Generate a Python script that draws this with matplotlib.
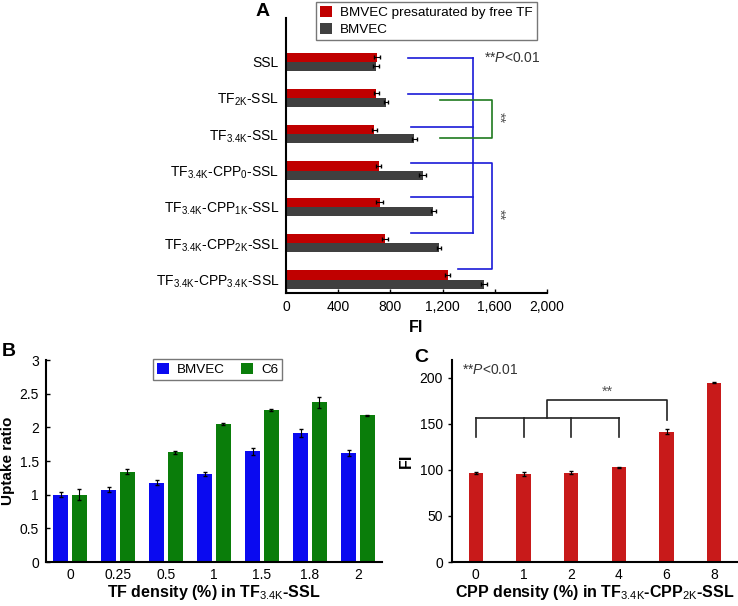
import numpy as np
import matplotlib
matplotlib.use('Agg')
import matplotlib.pyplot as plt

plt.rcParams['font.family'] = ['Liberation Sans', 'DejaVu Sans']
plt.rcParams['mathtext.fontset'] = 'custom'
plt.rcParams['mathtext.rm'] = 'Liberation Sans'
plt.rcParams['mathtext.it'] = 'Liberation Sans:italic'
plt.rcParams['mathtext.bf'] = 'Liberation Sans:bold'

# Panel A data
a_labels = ['SSL', r'TF$_{\rm 2K}$-SSL', r'TF$_{\rm 3.4K}$-SSL',
            r'TF$_{\rm 3.4K}$-CPP$_{\rm 0}$-SSL', r'TF$_{\rm 3.4K}$-CPP$_{\rm 1K}$-SSL',
            r'TF$_{\rm 3.4K}$-CPP$_{\rm 2K}$-SSL', r'TF$_{\rm 3.4K}$-CPP$_{\rm 3.4K}$-SSL']
a_presat = [696, 691, 678, 709, 717, 760, 1238]
a_presat_err = [22, 20, 18, 20, 25, 22, 20]
a_bmvec = [691, 767, 983, 1047, 1128, 1174, 1517]
a_bmvec_err = [25, 18, 20, 28, 20, 15, 22]
a_xticks = [0, 400, 800, 1200, 1600, 2000]
a_xticklabels = ['0', '400', '800', '1,200', '1,600', '2,000']

# Panel B data
b_cats = ['0', '0.25', '0.5', '1', '1.5', '1.8', '2']
b_bmvec = [1.00, 1.076, 1.18, 1.30, 1.646, 1.91, 1.62]
b_bmvec_err = [0.04, 0.04, 0.04, 0.03, 0.05, 0.06, 0.05]
b_c6 = [1.00, 1.34, 1.63, 2.05, 2.256, 2.37, 2.18]
b_c6_err = [0.08, 0.04, 0.02, 0.02, 0.01, 0.08, 0.01]

# Panel C data
c_cats = ['0', '1', '2', '4', '6', '8']
c_fi = [96.6, 95.5, 96.9, 102.7, 141.4, 194.6]
c_err = [1.0, 2.5, 2.0, 0.5, 2.5, 0.5]

red_a = '#c00000'
grey_a = '#404040'
blue = '#0a0af0'
green = '#0a7d0a'
red_c = '#c81a1a'

TICK = 10
LAB = 11.5

fig = plt.figure(figsize=(7.38, 6.06), dpi=100)

# ---------------- Panel A ----------------
axA = fig.add_axes([0.3875, 0.5165, 0.3537, 0.4538])
y = np.arange(len(a_labels))
h = 0.25
axA.barh(y - h / 2, a_presat, height=h, color=red_a, xerr=a_presat_err,
         error_kw=dict(ecolor='black', elinewidth=0.8, capsize=1.5), label='BMVEC presaturated by free TF')
axA.barh(y + h / 2, a_bmvec, height=h, color=grey_a, xerr=a_bmvec_err,
         error_kw=dict(ecolor='black', elinewidth=0.8, capsize=1.5), label='BMVEC')
axA.set_ylim(6.37, -1.2)
axA.set_xlim(0, 2000)
axA.set_yticks(y)
axA.set_yticklabels(a_labels, fontsize=TICK)
axA.set_xticks(a_xticks)
axA.set_xticklabels(a_xticklabels, fontsize=TICK)
axA.tick_params(axis='y', length=0, pad=5)
axA.tick_params(axis='x', direction='in', length=3, width=1, pad=5)
axA.set_xlabel('FI', fontsize=LAB, fontweight='bold', labelpad=4)
for s in ['top', 'right']:
    axA.spines[s].set_visible(False)
for s in ['left', 'bottom']:
    axA.spines[s].set_linewidth(1.5)

# significance brackets
blue_levels = [-0.1, 0.9, 1.8, 2.8, 3.72, 4.72]
blue_starts = [935, 935, 958, 958, 958, 958]
for yl, xs in zip(blue_levels, blue_starts):
    axA.plot([xs, 1433], [yl, yl], color='#1a1ad8', lw=1.2)
axA.plot([1433, 1433], [blue_levels[0], blue_levels[-1]], color='#1a1ad8', lw=1.2)
axA.plot([1433, 1579, 1579, 1318], [2.8, 2.8, 5.72, 5.72], color='#1a1ad8', lw=1.2)
axA.plot([1180, 1579, 1579, 1180], [1.05, 1.05, 2.1, 2.1], color='#1f7a1f', lw=1.2)
axA.text(1635, 1.55, '**', rotation=-90, ha='center', va='center', fontsize=10.5, color='#555555')
axA.text(1635, 4.2, '**', rotation=-90, ha='center', va='center', fontsize=10.5, color='#555555')
axA.text(1515, -0.1, r'**$\it{P}$<0.01', ha='left', va='center', fontsize=10, color='#333333')
axA.legend(loc='upper left', bbox_to_anchor=(0.115, 1.058), fontsize=9.7, frameon=True,
           fancybox=False, edgecolor='#555555', handlelength=0.9, handleheight=0.9,
           borderpad=0.3, labelspacing=0.25, handletextpad=0.6, borderaxespad=0)
fig.text(256 / 738, 1 - 11 / 606, 'A', fontsize=14, fontweight='bold', ha='left', va='center')

# ---------------- Panel B ----------------
axB = fig.add_axes([0.0623, 0.0726, 0.4553, 0.3333])
x = np.arange(len(b_cats))
w = 0.31
axB.bar(x - 0.19, b_bmvec, width=w, color=blue, yerr=b_bmvec_err,
        error_kw=dict(ecolor='black', elinewidth=0.8, capsize=1.5), label='BMVEC')
axB.bar(x + 0.19, b_c6, width=w, color=green, yerr=b_c6_err,
        error_kw=dict(ecolor='black', elinewidth=0.8, capsize=1.5), label='C6')
axB.set_xlim(-0.5, 6.5)
axB.set_ylim(0, 3)
axB.set_xticks(x)
axB.set_xticklabels(b_cats, fontsize=TICK)
axB.set_yticks([0, 0.5, 1, 1.5, 2, 2.5, 3])
axB.set_yticklabels(['0', '0.5', '1', '1.5', '2', '2.5', '3'], fontsize=TICK)
axB.tick_params(axis='x', length=0, pad=4)
axB.tick_params(axis='y', direction='in', length=3, width=1, pad=5)
axB.set_ylabel('Uptake ratio', fontsize=11, fontweight='bold', labelpad=3)
axB.set_xlabel(r'TF density (%) in TF$_{\rm 3.4K}$-SSL', fontsize=LAB, fontweight='bold', labelpad=1)
for s in ['top', 'right']:
    axB.spines[s].set_visible(False)
for s in ['left', 'bottom']:
    axB.spines[s].set_linewidth(1.5)
axB.legend(loc='upper left', bbox_to_anchor=(0.318, 1.005), ncol=2, fontsize=9.7, frameon=True,
           fancybox=False, edgecolor='#555555', handlelength=0.9, handleheight=0.9,
           borderpad=0.3, columnspacing=1.2, handletextpad=0.6, borderaxespad=0)
fig.text(2 / 738, 1 - 352 / 606, 'B', fontsize=14, fontweight='bold', ha='left', va='center')

# ---------------- Panel C ----------------
axC = fig.add_axes([0.6125, 0.0726, 0.3875, 0.3333])
xc = np.arange(len(c_cats))
axC.bar(xc, c_fi, width=0.3, color=red_c, yerr=c_err,
        error_kw=dict(ecolor='black', elinewidth=0.8, capsize=1.5))
axC.set_xlim(-0.5, 5.5)
axC.set_ylim(0, 219)
axC.set_xticks(xc)
axC.set_xticklabels(c_cats, fontsize=TICK)
axC.set_yticks([0, 50, 100, 150, 200])
axC.set_yticklabels(['0', '50', '100', '150', '200'], fontsize=TICK)
axC.tick_params(axis='x', length=0, pad=4)
axC.tick_params(axis='y', direction='out', length=3, width=1)
axC.set_ylabel('FI', fontsize=LAB, fontweight='bold', labelpad=4)
axC.set_xlabel(r'CPP density (%) in TF$_{\rm 3.4K}$-CPP$_{\rm 2K}$-SSL', fontsize=LAB,
               fontweight='bold', labelpad=1)
for s in ['top', 'right']:
    axC.spines[s].set_visible(False)
for s in ['left', 'bottom']:
    axC.spines[s].set_linewidth(1.5)

axC.plot([0, 3], [156.6, 156.6], color='#222222', lw=1.2)
for xi in range(4):
    axC.plot([xi, xi], [135.6, 156.6], color='#222222', lw=1.2)
axC.plot([1.5, 1.5, 4, 4], [156.6, 176, 176, 154.4], color='#222222', lw=1.2)
axC.text(2.77, 184.5, '**', ha='center', va='center', fontsize=10.5, color='#555555')
axC.text(-0.3, 208, r'**$\it{P}$<0.01', ha='left', va='center', fontsize=10, color='#333333')
fig.text(414 / 738, 1 - 358 / 606, 'C', fontsize=14, fontweight='bold', ha='left', va='center')

fig.savefig('out.png', dpi=100)
